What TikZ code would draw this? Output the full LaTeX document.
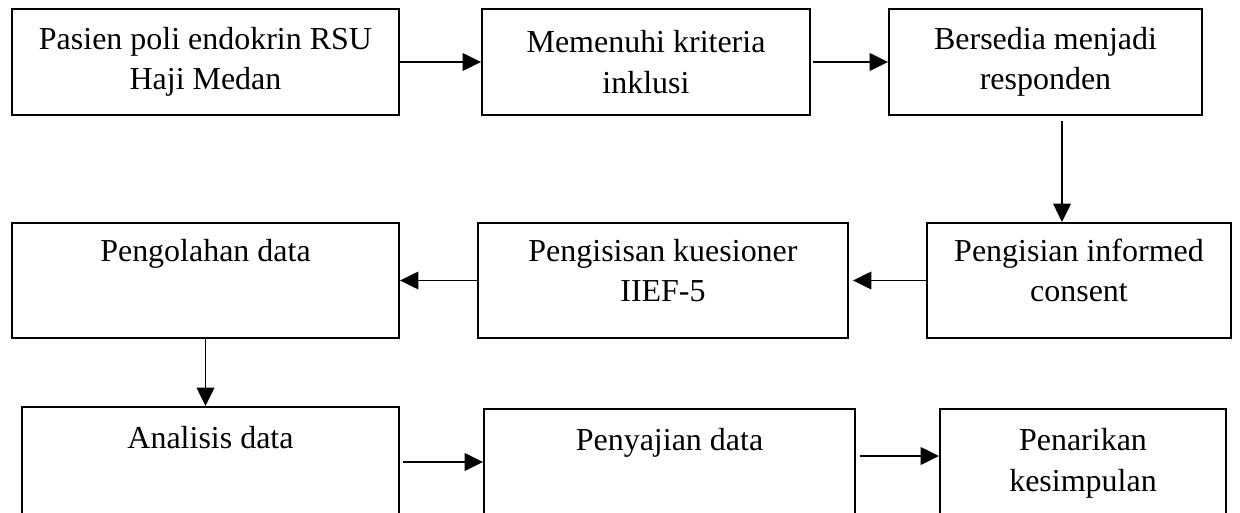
\documentclass[tikz,border=0pt]{standalone}
\usepackage{fontspec}
\setmainfont{Liberation Serif}
\usetikzlibrary{arrows.meta}
\begin{document}
\begin{tikzpicture}[x=0.02cm,y=-0.02cm,
    box/.style={draw, line width=1.1pt, align=center, inner sep=0pt,
      font=\fontsize{18.2}{23}\selectfont},
    arr/.style={-{Triangle[length=10.5pt,width=10pt]}, line width=1.1pt}]
    \clip (0,0) rectangle (1240,513);

    \node(pasien)   at (205.5,62)  [box, minimum width=7.74cm, minimum height=2.12cm] {Pasien poli endokrin RSU\\Haji Medan};
    \node(kriteria) at (646,62)    [box, minimum width=6.56cm, minimum height=2.12cm] {Memenuhi kriteria\\inklusi};
    \node(bersedia) at (1045.5,62) [box, minimum width=6.26cm, minimum height=2.12cm] {Bersedia menjadi\\responden};

    % text sits high in the lower boxes
    \node(olah)      at (205.5,280.5) [box, minimum width=7.74cm, minimum height=2.3cm] {Pengolahan data\\[11.4pt]\mbox{}};
    \node(kuesioner) at (663,280.5)   [box, minimum width=7.4cm, minimum height=2.3cm] {Pengisisan kuesioner\\IIEF-5\\[-11.6pt]\mbox{}};
    \node(informed)  at (1079,280.5)  [box, minimum width=6.08cm, minimum height=2.3cm] {Pengisian informed\\consent\\[-11.6pt]\mbox{}};

    \node(analisis) at (210.5,462) [box, minimum width=7.54cm, minimum height=2.2cm] {Analisis data\\[4.6pt]\mbox{}};
    \node(sajian)   at (669.5,464) [box, minimum width=7.42cm, minimum height=2.2cm] {Penyajian data\\[4.6pt]\mbox{}};
    \node(tarik)    at (1083,464)  [box, minimum width=5.72cm, minimum height=2.2cm] {Penarikan\\kesimpulan\\[-18.4pt]\mbox{}};

    \draw (pasien.east) edge[arr] (kriteria.west);
    \draw ([xshift=0.05cm]kriteria.east) edge[arr] (bersedia.west);
    \draw ([xshift=0.33cm,yshift=-0.1cm]bersedia.south) edge[arr] ([xshift=0.33cm]bersedia.south |- informed.north);

    \draw (informed.west) edge[arr, shorten >=0.08cm] (kuesioner.east);
    \draw (kuesioner.west) edge[arr] (olah.east);
    \draw (olah.south) edge[arr] (olah.south |- analisis.north);

    \draw ([xshift=0.06cm]analisis.east) edge[arr] (analisis.east -| sajian.west);
    \draw ([xshift=0.08cm,yshift=0.16cm]sajian.east) edge[arr] ([yshift=0.16cm]sajian.east -| tarik.west);
\end{tikzpicture}
\end{document}
